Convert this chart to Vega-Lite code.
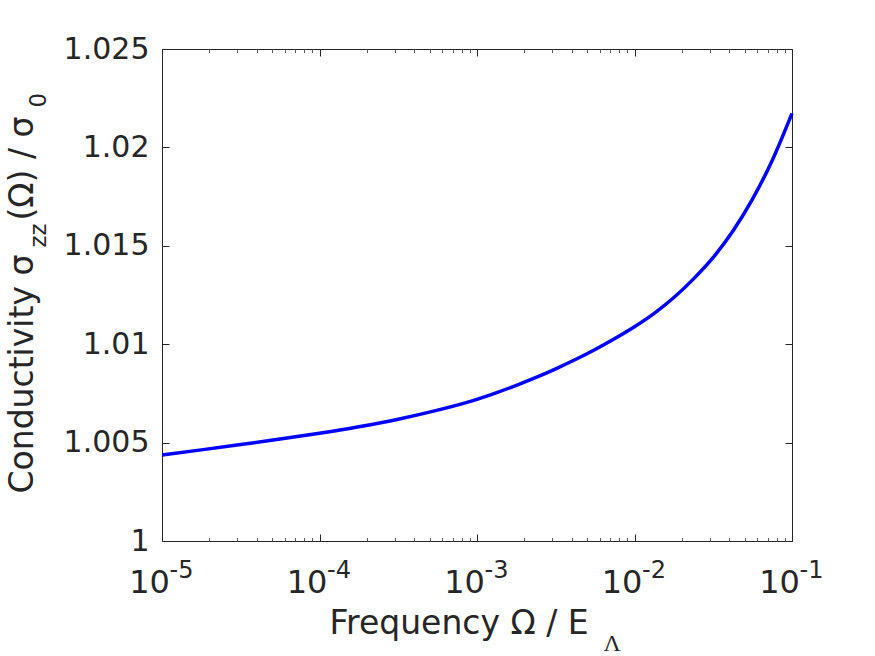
{
  "$schema": "https://vega.github.io/schema/vega-lite/v6.json",
  "autosize": {"type": "none"},
  "padding": {"left": 162, "top": 49, "right": 83, "bottom": 115},
  "width": 630,
  "height": 492,
  "background": "white",
  "config": {
    "view": {"stroke": "#262626", "strokeWidth": 1},
    "axis": {"domain": false, "grid": false, "tickColor": "#262626", "labelColor": "#262626", "titleColor": "#262626", "labelFont": "DejaVu Sans", "titleFont": "DejaVu Sans", "titleFontWeight": "normal", "tickWidth": 1}
  },
  "data": {"values": [
    {"freq": 1e-5, "sigma": 1.00437},
    {"freq": 1.778e-5, "sigma": 1.00463},
    {"freq": 3.162e-5, "sigma": 1.0049},
    {"freq": 5.623e-5, "sigma": 1.00518},
    {"freq": 1e-4, "sigma": 1.00548},
    {"freq": 1.778e-4, "sigma": 1.00581},
    {"freq": 3.162e-4, "sigma": 1.00619},
    {"freq": 5.623e-4, "sigma": 1.00665},
    {"freq": 1e-3, "sigma": 1.0072},
    {"freq": 1.334e-3, "sigma": 1.00754},
    {"freq": 1.778e-3, "sigma": 1.00791},
    {"freq": 2.371e-3, "sigma": 1.00831},
    {"freq": 3.162e-3, "sigma": 1.00875},
    {"freq": 4.217e-3, "sigma": 1.00922},
    {"freq": 5.623e-3, "sigma": 1.00973},
    {"freq": 7.499e-3, "sigma": 1.01029},
    {"freq": 1e-2, "sigma": 1.01089},
    {"freq": 1.334e-2, "sigma": 1.01157},
    {"freq": 1.778e-2, "sigma": 1.01237},
    {"freq": 2.371e-2, "sigma": 1.01332},
    {"freq": 3.162e-2, "sigma": 1.01441},
    {"freq": 4.217e-2, "sigma": 1.01575},
    {"freq": 5.623e-2, "sigma": 1.01738},
    {"freq": 7.499e-2, "sigma": 1.01935},
    {"freq": 0.1, "sigma": 1.02173}
  ]},
  "resolve": {"axis": {"x": "independent", "y": "independent"}},
  "layer": [
    {
      "mark": {"type": "line", "opacity": 0},
      "encoding": {
        "x": {"field": "freq", "type": "quantitative", "scale": {"type": "log", "domain": [1e-5, 0.1], "nice": false},
          "axis": {"orient": "bottom", "labels": false, "tickSize": -3.5,
            "values": [2e-5,3e-5,4e-5,5e-5,6e-5,7e-5,8e-5,9e-5,2e-4,3e-4,4e-4,5e-4,6e-4,7e-4,8e-4,9e-4,2e-3,3e-3,4e-3,5e-3,6e-3,7e-3,8e-3,9e-3,2e-2,3e-2,4e-2,5e-2,6e-2,7e-2,8e-2,9e-2],
            "tickColor": "#555555", "title": null}},
        "y": {"field": "sigma", "type": "quantitative", "scale": {"domain": [1, 1.025], "nice": false, "zero": false},
          "axis": {"orient": "left", "labels": false, "ticks": false, "title": "(Ω) / σ", "titleFontSize": 33, "titleAngle": -90, "titleAlign": "left", "titleBaseline": "alphabetic", "titleX": -130, "titleY": 171}}
      }
    },
    {
      "mark": {"type": "line", "opacity": 0},
      "encoding": {
        "x": {"field": "freq", "type": "quantitative", "scale": {"type": "log", "domain": [1e-5, 0.1], "nice": false},
          "axis": {"orient": "top", "labels": false, "tickSize": -3.5, "tickColor": "#555555",
            "values": [2e-5,3e-5,4e-5,5e-5,6e-5,7e-5,8e-5,9e-5,2e-4,3e-4,4e-4,5e-4,6e-4,7e-4,8e-4,9e-4,2e-3,3e-3,4e-3,5e-3,6e-3,7e-3,8e-3,9e-3,2e-2,3e-2,4e-2,5e-2,6e-2,7e-2,8e-2,9e-2],
            "title": null}},
        "y": {"field": "sigma", "type": "quantitative", "scale": {"domain": [1, 1.025], "nice": false, "zero": false},
          "axis": {"orient": "left", "labels": false, "ticks": false, "title": "0", "titleFontSize": 23, "titleAngle": -90, "titleAlign": "left", "titleBaseline": "alphabetic", "titleX": -117, "titleY": 58}}
      }
    },
    {
      "mark": {"type": "line", "opacity": 0},
      "encoding": {
        "x": {"field": "freq", "type": "quantitative", "scale": {"type": "log", "domain": [1e-5, 0.1], "nice": false},
          "axis": {"orient": "top", "labels": false, "tickSize": -7, "values": [1e-5, 1e-4, 1e-3, 1e-2, 1e-1], "title": null}},
        "y": {"field": "sigma", "type": "quantitative", "scale": {"domain": [1, 1.025], "nice": false, "zero": false},
          "axis": {"orient": "right", "labels": false, "tickSize": -7, "values": [1, 1.005, 1.01, 1.015, 1.02, 1.025], "title": null}}
      }
    },
    {
      "mark": {"type": "line", "opacity": 0},
      "encoding": {
        "x": {"field": "freq", "type": "quantitative", "scale": {"type": "log", "domain": [1e-5, 0.1], "nice": false},
          "axis": {"orient": "bottom", "ticks": false, "values": [1e-5, 1e-4, 1e-3, 1e-2, 1e-1],
            "labelExpr": "'-' + round(-log(datum.value) / LN10)", "labelFontSize": 24, "labelBaseline": "alphabetic", "labelPadding": 36, "labelOffset": 19, "labelAlign": "center", "labelFlush": false, "labelOverlap": false,
            "title": "Λ", "titleFont": "Liberation Serif", "titleFontSize": 24, "titleAlign": "left", "titleBaseline": "alphabetic", "titleX": 441, "titleY": 109}},
        "y": {"field": "sigma", "type": "quantitative", "scale": {"domain": [1, 1.025], "nice": false, "zero": false},
          "axis": {"orient": "left", "labels": false, "ticks": false, "title": "zz", "titleFontSize": 23, "titleAngle": -90, "titleAlign": "left", "titleBaseline": "alphabetic", "titleX": -117, "titleY": 198}}
      }
    },
    {
      "mark": {"type": "line", "color": "#0000FF", "strokeWidth": 3.5, "interpolate": "monotone"},
      "encoding": {
        "x": {"field": "freq", "type": "quantitative", "scale": {"type": "log", "domain": [1e-5, 0.1], "nice": false},
          "axis": {"orient": "bottom", "tickSize": -7, "values": [1e-5, 1e-4, 1e-3, 1e-2, 1e-1],
            "labelExpr": "'10'", "labelFontSize": 32, "labelBaseline": "alphabetic", "labelPadding": 58, "labelOffset": -13, "labelAlign": "center", "labelFlush": false, "labelOverlap": false,
            "title": "Frequency Ω / E", "titleFontSize": 33, "titleAlign": "left", "titleBaseline": "alphabetic", "titleX": 167, "titleY": 92}},
        "y": {"field": "sigma", "type": "quantitative", "scale": {"domain": [1, 1.025], "nice": false, "zero": false},
          "axis": {"orient": "left", "tickSize": -7, "values": [1, 1.005, 1.01, 1.015, 1.02, 1.025], "format": ".3~f",
            "labelFontSize": 30, "labelPadding": 20, "labelFlush": false, "labelOverlap": false,
            "title": "Conductivity σ", "titleFontSize": 33, "titleAngle": -90, "titleAlign": "left", "titleBaseline": "alphabetic", "titleX": -130, "titleY": 444}}
      }
    }
  ]
}
